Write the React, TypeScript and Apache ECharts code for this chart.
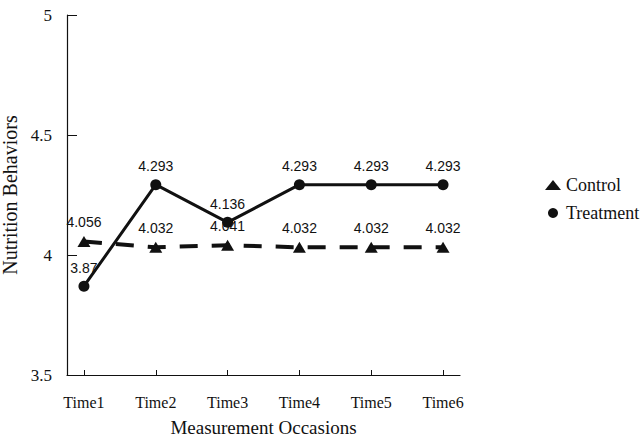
import React, { useEffect, useRef } from "react";
import * as echarts from "echarts";

const categories = ["Time1", "Time2", "Time3", "Time4", "Time5", "Time6"];
const controlValues = [4.056, 4.032, 4.041, 4.032, 4.032, 4.032];
const treatmentValues = [3.87, 4.293, 4.136, 4.293, 4.293, 4.293];
const yTicks = [3.5, 4, 4.5, 5];

export default function App() {
  const ref = useRef<HTMLDivElement>(null);
  useEffect(() => {
    if (!ref.current) return;
    const chart = echarts.init(ref.current, null, { renderer: "svg" });
    const positions = categories.map((_, i) => i + 1);
    const serif = "Liberation Serif";
    chart.setOption({
      animation: false,
      backgroundColor: "#fff",
      grid: { left: 67, top: 15, right: 182, bottom: 64, containLabel: false, outerBoundsMode: "none" },
      legend: {
        orient: "vertical",
        left: 540,
        top: 171,
        itemGap: 10,
        itemWidth: 16,
        itemHeight: 10,
        textStyle: { fontFamily: serif, fontSize: 18, color: "#111" },
        data: [
          { name: "Control", icon: "triangle" },
          { name: "Treatment", icon: "circle" },
        ],
      },
      xAxis: {
        type: "value",
        min: 0.764,
        max: 6.236,
        splitLine: { show: false },
        axisLine: { lineStyle: { color: "#111", width: 1.2 } },
        axisTick: { inside: true, length: 5, customValues: positions, lineStyle: { color: "#111" } },
        axisLabel: {
          customValues: positions,
          formatter: (v: number) => categories[Math.round(v) - 1],
          fontFamily: serif,
          fontSize: 16,
          color: "#111",
          margin: 19,
        },
        name: "Measurement Occasions",
        nameLocation: "middle",
        nameGap: 43,
        nameTextStyle: { fontFamily: serif, fontSize: 19, color: "#111" },
      },
      yAxis: {
        type: "value",
        min: yTicks[0],
        max: yTicks[yTicks.length - 1],
        interval: 0.5,
        splitLine: { show: false },
        axisLine: { show: true, lineStyle: { color: "#111", width: 1.2 } },
        axisTick: { show: true, inside: true, length: 10, lineStyle: { color: "#111" } },
        axisLabel: {
          fontFamily: serif,
          fontSize: 17,
          color: "#111",
          margin: 15,
          formatter: (v: number) => String(v),
        },
        name: "Nutrition Behaviors",
        nameLocation: "middle",
        nameGap: 40,
        nameTextStyle: { fontFamily: serif, fontSize: 20, color: "#111" },
      },
      series: [
        {
          name: "Control",
          type: "line",
          data: controlValues.map((v, i) => [positions[i], v]),
          symbol: "triangle",
          symbolSize: [13, 11],
          itemStyle: { color: "#111" },
          lineStyle: { color: "#111", width: 4, type: [18, 14] },
          label: {
            show: true,
            position: "top",
            distance: 7,
            fontFamily: "Liberation Sans",
            fontSize: 14,
            color: "#111",
            formatter: (p: any) => String(p.value[1]),
          },
        },
        {
          name: "Treatment",
          type: "line",
          data: treatmentValues.map((v, i) => [positions[i], v]),
          symbol: "circle",
          symbolSize: 11,
          itemStyle: { color: "#111" },
          lineStyle: { color: "#111", width: 3 },
          label: {
            show: true,
            position: "top",
            distance: 6,
            fontFamily: "Liberation Sans",
            fontSize: 14,
            color: "#111",
            formatter: (p: any) => String(p.value[1]),
          },
        },
      ],
    });
    return () => chart.dispose();
  }, []);
  return <div ref={ref} style={{ width: 642, height: 439, position: "absolute", left: 0, top: 0 }} />;
}
